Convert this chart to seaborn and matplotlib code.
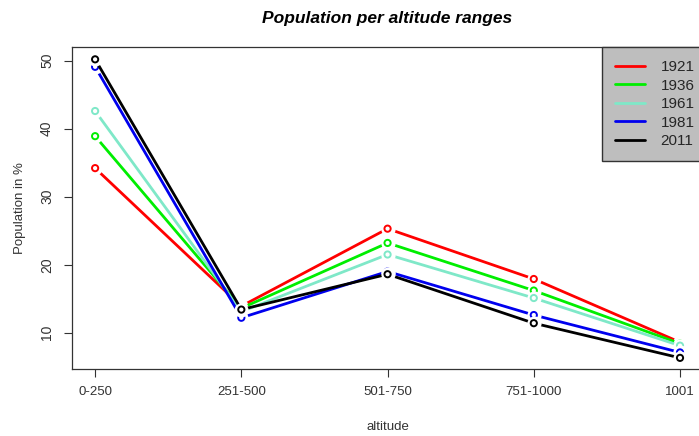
import pandas as pd
import matplotlib.pyplot as plt
import seaborn as sns

# ================================================================
# DATA
# ================================================================
altitudes = ["0-250", "251-500", "501-750", "751-1000", "1001"]
years = ["1921", "1936", "1961", "1981", "2011"]
colors = ["#FF0000", "#00EE00", "#7FE8C8", "#0000EE", "#000000"]

pop_1921 = [34.2, 13.9, 25.3, 17.9, 8.6]
pop_1936 = [38.9, 13.6, 23.2, 16.2, 8.4]
pop_1961 = [42.6, 13.1, 21.5, 15.1, 8.1]
pop_1981 = [49.1, 12.2, 19.0, 12.6, 7.1]
pop_2011 = [50.2, 13.4, 18.6, 11.4, 6.3]

yticks = [10, 20, 30, 40, 50]

series = [pop_1921, pop_1936, pop_1961, pop_1981, pop_2011]
df = pd.concat(
    [pd.DataFrame({"altitude": altitudes, "pop": vals, "year": yr})
     for yr, vals in zip(years, series)],
    ignore_index=True,
)

# ================================================================
# STYLE
# ================================================================
sns.set_style("ticks")
plt.rcParams["font.family"] = ["Liberation Sans", "DejaVu Sans"]

fig = plt.figure(figsize=(6.99, 4.36), dpi=100)
ax = fig.add_axes([0.1026, 0.153, 0.9037, 0.739])

# ================================================================
# LINES + POINTS (R type="b" look)
# ================================================================
for i, (yr, col) in enumerate(zip(years, colors)):
    sub = df[df["year"] == yr]
    z = 2 + i * 3
    sns.lineplot(data=sub, x="altitude", y="pop", color=col, linewidth=2.0,
                 label=yr, ax=ax, zorder=z, sort=False)
    sns.scatterplot(data=sub, x="altitude", y="pop", color="white", s=105,
                    linewidth=0, ax=ax, zorder=z + 1, legend=False)
    sns.scatterplot(data=sub, x="altitude", y="pop", facecolor="none",
                    edgecolor=col, s=20, linewidth=1.4, ax=ax, zorder=z + 2,
                    legend=False)

ax.set_xlim(-0.16, 4.16)
ax.set_ylim(4.62, 52.0)
ax.set_yticks(yticks)
ax.set_yticklabels([str(v) for v in yticks], rotation=90, va="center")

for sp in ax.spines.values():
    sp.set_color("#333333")
    sp.set_linewidth(0.9)
    sp.set_visible(True)

ax.tick_params(axis="both", colors="#333333", labelcolor="#333333",
               length=5.8, width=0.8, labelsize=9.5)
ax.tick_params(axis="y", labelsize=10)
ax.tick_params(axis="x", pad=6)
ax.tick_params(axis="y", pad=7)

ax.set_xlabel("altitude", fontsize=9.5, color="#333333", labelpad=17)
ax.set_ylabel("Population in %", fontsize=9.5, color="#333333", labelpad=10)

fig.text(0.554, 0.958, "Population per altitude ranges", ha="center", va="center",
         fontsize=12.5, fontweight="bold", fontstyle="italic", color="black")

leg = ax.legend(loc="upper left", bbox_to_anchor=(601.7 / 699, 1 - 47 / 436),
                bbox_transform=fig.transFigure, borderaxespad=0,
                frameon=True, fancybox=False, fontsize=11,
                handlelength=2.0, handletextpad=1.0, labelspacing=0.3,
                borderpad=0.85)
leg.get_frame().set_facecolor("#BEBEBE")
leg.get_frame().set_edgecolor("#333333")
leg.get_frame().set_alpha(1)
for h in leg.get_lines():
    h.set_linewidth(2.0)

fig.savefig("out.png", dpi=100)
